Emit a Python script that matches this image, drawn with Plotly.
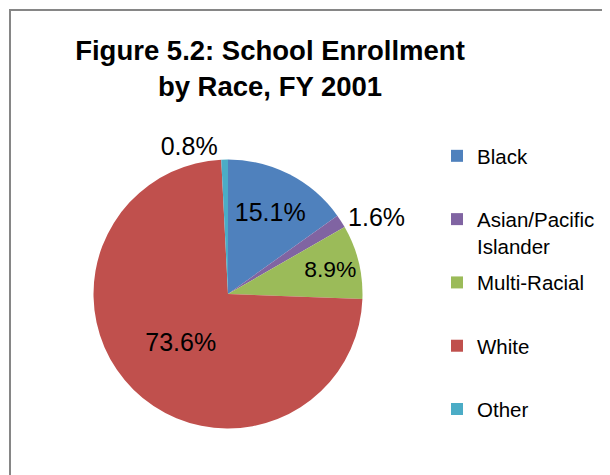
import plotly.graph_objects as go

races = ["Black", "Asian/Pacific Islander", "Multi-Racial", "White", "Other"]
legend_text = ["Black<br> ", "Asian/Pacific<br>Islander", "Multi-Racial<br> ", "White<br> ", "Other<br> "]
shares = [15.1, 1.6, 8.9, 73.6, 0.8]
colors = ["#4F81BD", "#8064A2", "#9BBB59", "#C0504D", "#4BACC6"]
label_pos = ["inside", "outside", "inside", "inside", "outside"]

FONT = "Liberation Sans, Arial, sans-serif"

# the page puts the figure 8px in from the top-left corner
OFF = 8
W, H = 610 - OFF, 475 - OFF


def px(sx):
    return (sx - OFF) / W


def py(sy):
    return 1 - (sy - OFF) / H


# pie sits in a square of 269px centred at (228, 294) on screen
cx, cy, r = 228, 294, 134.5

fig = go.Figure()
fig.add_trace(go.Pie(
    labels=races,
    values=shares,
    sort=False,
    direction="clockwise",
    rotation=0,
    marker=dict(colors=colors, line=dict(width=0)),
    texttemplate="%{value:.1f}%",
    textposition=label_pos,
    insidetextorientation="horizontal",
    textfont=dict(family=FONT, size=25, color="black"),
    showlegend=False,
    hoverinfo="label+percent",
    domain=dict(x=[px(cx - r), px(cx + r)], y=[py(cy + r), py(cy - r)]),
))

# legend entries, one group each so the spacing can be set
for name, txt, col in zip(races, legend_text, colors):
    fig.add_trace(go.Scatter(
        x=[None], y=[None], mode="markers", name=txt,
        marker=dict(symbol="square", size=12, color=col),
        legendgroup=name, hoverinfo="skip",
    ))

fig.update_layout(
    width=W, height=H,
    margin=dict(l=0, r=0, t=0, b=0),
    paper_bgcolor="white", plot_bgcolor="white",
    xaxis=dict(visible=False), yaxis=dict(visible=False),
    font=dict(family=FONT, color="black"),
    title=dict(
        text="Figure 5.2: School Enrollment<br>by Race, FY 2001",
        x=px(270), xanchor="center", y=py(60), yanchor="top", yref="container",
        font=dict(family=FONT, size=27.5, color="black", weight="bold"),
    ),
    legend=dict(
        x=px(437), xanchor="left", y=py(136), yanchor="top",
        font=dict(family=FONT, size=20.5, color="black"),
        valign="top", tracegroupgap=7, bgcolor="rgba(0,0,0,0)",
    ),
    shapes=[dict(
        type="rect", xref="paper", yref="paper",
        x0=px(10), x1=1.05, y0=-0.05, y1=py(10),
        line=dict(color="#868686", width=2), fillcolor="rgba(0,0,0,0)",
    )],
)

fig.write_html("out.html")
